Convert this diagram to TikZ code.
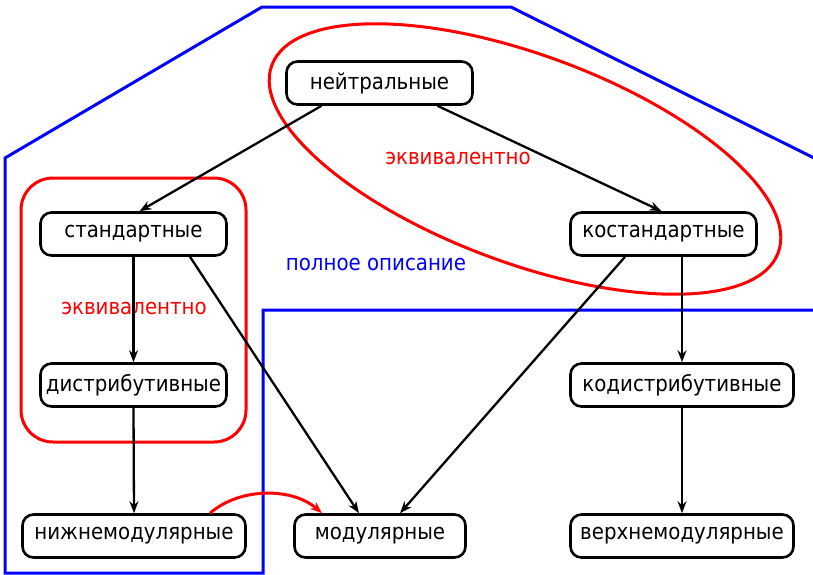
\documentclass[tikz,border=0pt]{standalone}
\usepackage{fontspec}
\setmainfont{DejaVu Sans Condensed}
\usetikzlibrary{arrows.meta,shapes.geometric}
\definecolor{pred}{RGB}{255,0,0}
\definecolor{pblue}{RGB}{0,0,255}
\tikzset{
  box/.style={draw, line width=2.6pt, rounded corners=11pt, minimum height=43pt, inner sep=0pt, font=\fontsize{22}{26}\selectfont},
  conn/.style={line width=2.3pt, -{Stealth[length=12pt,width=9pt,inset=4pt]}},
  lbl/.style={font=\fontsize{22}{26}\selectfont, inner sep=0pt},
}
\begin{document}
\begin{tikzpicture}[x=1pt,y=-1pt]
\useasboundingbox (0,0) rectangle (813,574);
\clip (0,0) rectangle (813,574);
% blue region
\draw[pblue, line width=3pt] (5,573) -- (5,158) -- (262,7) -- (511,7) -- (818,160) -- (818,310) -- (263,310) -- (263,573) -- cycle;
% red groups
\draw[pred, line width=3pt, rounded corners=32pt] (21,178) rectangle (246,442);
\node[draw=pred, line width=3pt, ellipse, inner sep=0pt, minimum width=540pt, minimum height=208pt, rotate=-20.3] (ell) at (525,159) {};
% nodes
\node[box, minimum width=186pt] (n) at (379.5,83) {нейтральные};
\node[box, minimum width=186pt] (s) at (133.5,234) {стандартные};
\node[box, minimum width=186pt] (k) at (663.5,234) {костандартные};
\node[box, minimum width=186pt] (d) at (133.5,385) {дистрибутивные};
\node[box, minimum width=223pt] (kd) at (682,385) {кодистрибутивные};
\node[box, minimum width=223pt] (nm) at (134,536) {нижнемодулярные};
\node[box, minimum width=171pt] (m) at (380,536) {модулярные};
\node[box, minimum width=223pt] (vm) at (682,536) {верхнемодулярные};
% labels
\node[lbl, text=pred] (e1) at (458,158) {эквивалентно};
\node[lbl, text=pblue] (po) at (376,264) {полное описание};
\node[lbl, text=pred] (e2) at (134,308) {эквивалентно};
% connectors
\draw[conn] ([xshift=-58pt]n.south) -- ([xshift=6pt]s.north);
\draw[conn] ([xshift=58pt]n.south) -- ([xshift=-2pt]k.north);
\draw[conn] (s.south) -- (d.north);
\draw[conn] ([xshift=56.5pt]s.south) -- ([xshift=-21pt]m.north);
\draw[conn] ([xshift=-38.5pt]k.south) -- ([xshift=20pt]m.north);
\draw[conn] ([xshift=18.5pt]k.south) -- (kd.north);
\draw[conn] (d.south) -- (nm.north);
\draw[conn] (kd.south) -- (vm.north);
\draw[pred, line width=3pt, -{Stealth[length=12pt,width=9pt,inset=4pt]}] ([xshift=76pt]nm.north) .. controls +(30,-26) and +(-30,-26) .. ([xshift=-58pt]m.north);
\end{tikzpicture}
\end{document}
